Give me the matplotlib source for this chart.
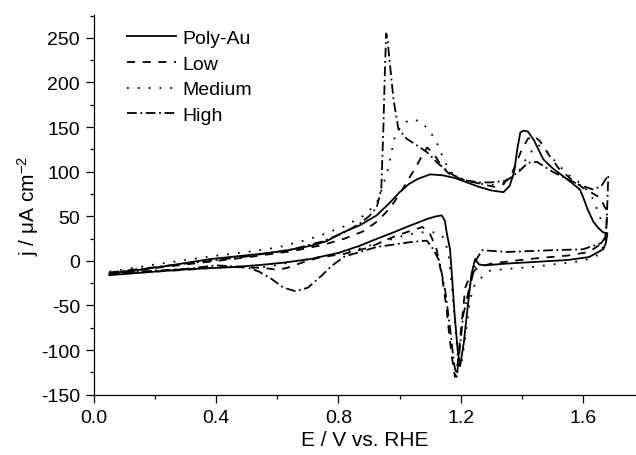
import numpy as np
import matplotlib
matplotlib.use('Agg')
import matplotlib.pyplot as plt

plt.rcParams['font.family'] = 'Liberation Sans'
plt.rcParams['mathtext.fontset'] = 'custom'
plt.rcParams['mathtext.rm'] = 'Liberation Sans'
plt.rcParams['mathtext.it'] = 'Liberation Sans:italic'
plt.rcParams['lines.scale_dashes'] = False
plt.rcParams['axes.unicode_minus'] = False

# CV data, anodic sweep then cathodic sweep (E in V vs RHE, j in uA/cm2)
# Poly-Au
poly_E_up = [0.05, 0.15, 0.25, 0.38, 0.54, 0.62, 0.71, 0.76, 0.815, 0.87, 0.925, 0.97, 1.00, 1.03,
             1.06, 1.10, 1.14, 1.18, 1.22, 1.26, 1.30, 1.34, 1.36, 1.375, 1.385, 1.395, 1.405,
             1.42, 1.44, 1.47, 1.50, 1.535, 1.565, 1.59, 1.60, 1.615, 1.634, 1.65, 1.666, 1.68]
poly_j_up = [-14, -10, -5, 2, 7.7, 11, 17, 22, 32, 40, 51, 66, 77, 86,
             92, 97, 96, 93, 88, 83, 79, 77, 84, 100, 125, 144, 146,
             145, 135, 114, 104, 95, 87, 80, 72, 58, 44, 37, 32, 31]
poly_E_dn = [1.68, 1.675, 1.666, 1.62, 1.55, 1.45, 1.35, 1.28, 1.26, 1.247, 1.235, 1.22, 1.21,
             1.198, 1.19, 1.18, 1.172, 1.165, 1.155, 1.148, 1.138, 1.12, 1.09, 1.034, 0.98,
             0.92, 0.87, 0.80, 0.707, 0.62, 0.543, 0.45, 0.325, 0.2, 0.05]
poly_j_dn = [31, 20, 13, 4.3, 1, -1, -3, -5, -4, 2, -15, -60, -92,
             -118, -100, -60, -20, 13, 30, 45, 51, 50, 47, 39.5, 32,
             24, 17, 9, 2, -2, -4.6, -7, -9, -12, -16]

# Low
low_E_up = [0.05, 0.2, 0.35, 0.5, 0.65, 0.75, 0.82, 0.88, 0.93, 0.97, 1.00, 1.023, 1.056, 1.08,
            1.09, 1.11, 1.14, 1.17, 1.22, 1.27, 1.31, 1.34, 1.37, 1.40, 1.42, 1.44, 1.46, 1.49,
            1.52, 1.56, 1.60, 1.63, 1.656, 1.672, 1.68]
low_j_up = [-14, -8, -2, 4, 11, 18, 25, 33, 45, 60, 75, 88, 107, 122,
            127, 121, 105, 95, 90, 86, 83, 86, 100, 125, 137, 140, 134, 118,
            104, 92, 82, 76, 71, 60, 55]
low_E_dn = [1.68, 1.672, 1.62, 1.55, 1.45, 1.37, 1.30, 1.274, 1.25, 1.23, 1.215, 1.20, 1.19,
            1.181, 1.172, 1.163, 1.154, 1.14, 1.121, 1.10, 1.075, 1.03, 0.98, 0.90, 0.82, 0.74,
            0.68, 0.63, 0.598, 0.56, 0.50, 0.42, 0.3, 0.15, 0.05]
low_j_dn = [55, 22, 10, 6, 3, 0, -3, -5.4, -9, -17, -30, -80, -115,
            -130, -110, -85, -54, -20, 13, 30, 38, 33, 27, 15, 8, 4,
            -2, -8, -10, -8, -7, -7, -10, -13, -15]

# Medium
med_E_up = [0.05, 0.2, 0.38, 0.5, 0.6, 0.7, 0.76, 0.82, 0.89, 0.93, 0.96, 0.985, 1.01, 1.04,
            1.07, 1.10, 1.121, 1.143, 1.165, 1.2, 1.25, 1.3, 1.35, 1.39, 1.42, 1.45, 1.47,
            1.50, 1.55, 1.60, 1.634, 1.66, 1.68]
med_j_up = [-12, -4, 5, 10, 15, 24, 31, 39, 52, 68, 100, 140, 154, 159,
            156, 145, 133, 115, 100, 92, 87, 85, 88, 100, 118, 130, 128,
            115, 97, 85, 69, 45, 35]
med_E_dn = [1.68, 1.66, 1.60, 1.50, 1.43, 1.35, 1.296, 1.263, 1.24, 1.228, 1.215, 1.205, 1.198,
            1.19, 1.18, 1.17, 1.16, 1.145, 1.12, 1.07, 1.034, 1.00, 0.93, 0.85, 0.75, 0.65,
            0.58, 0.52, 0.45, 0.3, 0.15, 0.05]
med_j_dn = [35, 8, 0, -4, -7, -9, -11, -20, -30, -50, -85, -110, -120,
            -105, -65, -25, 8, 26, 32, 32, 30, 27, 20, 12, 5, -1,
            -6, -8, -7, -9, -12, -14]

# High
high_E_up = [0.05, 0.2, 0.35, 0.5, 0.65, 0.75, 0.82, 0.87, 0.90, 0.925, 0.94, 0.947, 0.952,
             0.956, 0.96, 0.965, 0.98, 0.996, 1.023, 1.05, 1.089, 1.13, 1.176, 1.22, 1.263,
             1.30, 1.35, 1.39, 1.42, 1.45, 1.50, 1.547, 1.59, 1.634, 1.66, 1.683]
high_j_up = [-13, -7, -1, 5, 13, 22, 32, 42, 50, 60, 80, 150, 215,
             255, 250, 232, 181, 148, 137, 131, 122, 108, 96, 90, 88,
             88, 90, 100, 110, 111, 100, 92, 85, 80, 84, 96]
high_E_dn = [1.683, 1.676, 1.66, 1.60, 1.50, 1.35, 1.27, 1.252, 1.24, 1.225, 1.208, 1.195,
             1.187, 1.178, 1.165, 1.15, 1.13, 1.11, 1.089, 1.034, 0.925, 0.86, 0.82, 0.78,
             0.74, 0.70, 0.66, 0.62, 0.58, 0.54, 0.50, 0.4, 0.3, 0.15, 0.05]
high_j_dn = [96, 28, 20, 13, 12, 10, 12, 2, -15, -35, -61, -105,
             -130, -115, -75, -35, 0, 13, 22.7, 21, 15.6, 9, 5, -5,
             -18, -30, -34, -30, -20, -12, -7, -5, -9, -12, -14]

labels = ['Poly-Au', 'Low', 'Medium', 'High']
styles = ['-', (0, (5.8, 5.5)), (0, (1.3, 6.5)), (0, (7, 2.6, 1.3, 2.6))]

curves = [(poly_E_up + poly_E_dn, poly_j_up + poly_j_dn),
          (low_E_up + low_E_dn, low_j_up + low_j_dn),
          (med_E_up + med_E_dn, med_j_up + med_j_dn),
          (high_E_up + high_E_dn, high_j_up + high_j_dn)]

fig = plt.figure(figsize=(6.36, 4.56), dpi=100)
ax = fig.add_axes([94 / 636, (456 - 395.7) / 456, 542 / 636, 380 / 456])

for (E, j), lab, ls in zip(curves, labels, styles):
    ax.plot(E, j, color='black', linestyle=ls, linewidth=1.3, label=lab)

ax.set_xlim(0, 542 / 305.6)
ax.set_ylim(-150, 276)
ax.set_xticks(np.arange(0, 1.61, 0.4))
ax.set_xticks(np.arange(0, 1.79, 0.2), minor=True)
ax.set_yticks(np.arange(-150, 251, 50))
ax.set_yticks(np.arange(-150, 276, 25), minor=True)
ax.xaxis.set_major_formatter(matplotlib.ticker.FormatStrFormatter('%.1f'))

for s in ['top', 'right']:
    ax.spines[s].set_visible(False)
for s in ['left', 'bottom']:
    ax.spines[s].set_linewidth(0.9)

ax.tick_params(which='major', direction='out', length=6, width=0.9, labelsize=14, pad=4)
ax.tick_params(which='minor', direction='out', length=3.2, width=0.9)

ax.set_xlabel('E / V vs. RHE', fontsize=15, labelpad=3)
ax.set_ylabel('j / μA cm$^{-2}$', fontsize=15, labelpad=0)

ax.legend(loc='upper left', bbox_to_anchor=(0.06, 0.962), frameon=False, fontsize=14,
          handlelength=2.55, handletextpad=0.3, labelspacing=0.42, borderpad=0, borderaxespad=0)

fig.savefig('out.png', dpi=100)
